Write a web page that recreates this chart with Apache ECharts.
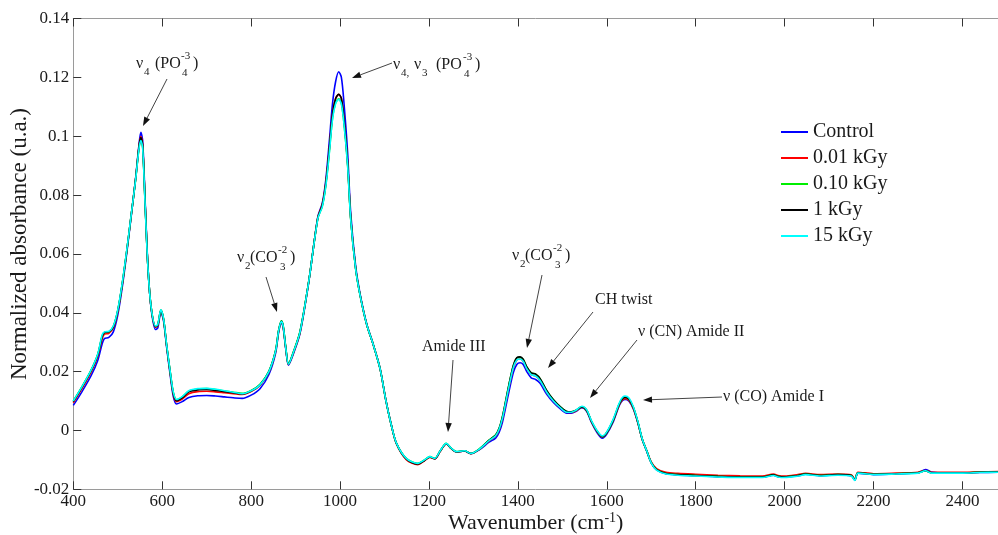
<!DOCTYPE html>
<html>
<head>
<meta charset="utf-8">
<script src="https://cdn.jsdelivr.net/npm/echarts@6/dist/echarts.min.js"></script>
<style>html,body{margin:0;padding:0;background:#fff;}#chart{width:998px;height:535px;}</style>
</head>
<body>
<div id="chart"></div>
<script>
const seriesNames = ['Control', '0.01 kGy', '0.10 kGy', '1 kGy', '15 kGy'];
const seriesColors = ['#0000ff', '#ff0000', '#00ee00', '#000000', '#00ffff'];

const wavenumber = [
400,420,440,455,465,470,480,490,500,510,
520,530,540,548,552,556,562,568,575,585,
590,597,603,610,618,625,632,645,660,680,
700,720,740,760,780,800,820,840,855,862,
868,872,878,884,895,910,930,950,960,968,
976,983,990,997,1003,1009,1017,1024,1035,1045,
1060,1075,1090,1103,1115,1127,1149,1175,1190,1202,
1213,1225,1239,1250,1262,1280,1294,1313,1335,1350,
1358,1365,1372,1380,1390,1398,1405,1412,1420,1430,
1440,1450,1465,1480,1495,1510,1520,1530,1544,1555,
1565,1578,1590,1600,1615,1630,1641,1650,1660,1670,
1680,1690,1700,1712,1733,1760,1800,1850,1900,1950,
1975,1985,2000,2030,2047,2080,2120,2150,2158,2165,
2200,2250,2300,2317,2330,2360,2400,2440,2480];

const control = [
.0085,.0133,.0186,.0238,.0295,.0312,.0316,.0335,.0392,.0485,
.0600,.0725,.0855,.0975,.1013,.0985,.0765,.0555,.0415,.0343,
.0348,.0402,.0372,.0282,.0188,.0115,.0090,.0098,.0112,.0118,
.0119,.0117,.0114,.0111,.0109,.0120,.0142,.0190,.0262,.0334,
.0366,.0350,.0276,.0222,.0260,.0330,.0508,.0726,.0772,.0852,
.0985,.1110,.1185,.1219,.1200,.1110,.0945,.0740,.0560,.0465,
.0362,.0291,.0211,.0104,.0021,-.0044,-.0096,-.0113,-.0101,-.0090,
-.0096,-.0071,-.0045,-.0061,-.0073,-.0070,-.0079,-.0066,-.0040,-.0026,
-.0006,.0026,.0074,.0132,.0198,.0225,.0230,.0224,.0200,.0179,
.0173,.0160,.0123,.0095,.0074,.0059,.0059,.0064,.0077,.0064,
.0029,-.0007,-.0026,-.0012,.0031,.0090,.0105,.0099,.0072,.0025,
-.0032,-.0071,-.0110,-.0134,-.0147,-.0151,-.0154,-.0157,-.0159,-.0159,
-.0152,-.0157,-.0159,-.0154,-.0149,-.0154,-.0151,-.0154,-.0169,-.0145,
-.0150,-.0148,-.0144,-.0133,-.0141,-.0145,-.0145,-.0143,-.0142];

const dose001 = [
.0094,.0144,.0198,.0252,.0312,.0327,.0330,.0348,.0403,.0494,
.0606,.0728,.0853,.0968,.0999,.0972,.0757,.0553,.0418,.0351,
.0356,.0406,.0377,.0287,.0195,.0123,.0098,.0107,.0125,.0132,
.0133,.0131,.0128,.0125,.0122,.0132,.0153,.0198,.0268,.0338,
.0369,.0353,.0278,.0224,.0263,.0333,.0510,.0724,.0768,.0842,
.0960,.1075,.1128,.1142,.1128,.1055,.0910,.0722,.0552,.0461,
.0360,.0290,.0210,.0103,.0020,-.0046,-.0099,-.0116,-.0103,-.0092,
-.0097,-.0072,-.0046,-.0062,-.0073,-.0070,-.0079,-.0065,-.0036,-.0019,
.0003,.0038,.0088,.0148,.0213,.0240,.0243,.0235,.0210,.0190,
.0185,.0170,.0130,.0100,.0078,.0062,.0061,.0066,.0079,.0067,
.0032,-.0003,-.0022,-.0008,.0035,.0093,.0108,.0102,.0074,.0026,
-.0031,-.0069,-.0107,-.0130,-.0142,-.0146,-.0149,-.0152,-.0154,-.0155,
-.0148,-.0153,-.0155,-.0150,-.0146,-.0150,-.0148,-.0151,-.0166,-.0142,
-.0147,-.0145,-.0142,-.0136,-.0142,-.0142,-.0142,-.0141,-.0140];

const dose010 = [
.0100,.0150,.0205,.0258,.0322,.0333,.0335,.0353,.0408,.0498,
.0608,.0729,.0850,.0962,.0988,.0963,.0752,.0551,.0420,.0354,
.0359,.0409,.0379,.0289,.0199,.0129,.0104,.0114,.0134,.0141,
.0142,.0139,.0134,.0130,.0126,.0136,.0157,.0202,.0272,.0342,
.0373,.0357,.0282,.0227,.0267,.0337,.0511,.0721,.0762,.0833,
.0948,.1060,.1113,.1127,.1112,.1042,.0902,.0718,.0550,.0460,
.0360,.0290,.0210,.0103,.0020,-.0044,-.0095,-.0112,-.0100,-.0089,
-.0095,-.0070,-.0044,-.0060,-.0072,-.0069,-.0078,-.0063,-.0033,-.0015,
.0008,.0045,.0096,.0157,.0222,.0247,.0249,.0241,.0216,.0196,
.0191,.0176,.0135,.0104,.0081,.0064,.0063,.0068,.0080,.0068,
.0033,-.0002,-.0021,-.0007,.0037,.0096,.0113,.0106,.0077,.0028,
-.0031,-.0070,-.0109,-.0133,-.0146,-.0150,-.0153,-.0156,-.0158,-.0158,
-.0151,-.0156,-.0158,-.0153,-.0148,-.0153,-.0150,-.0153,-.0168,-.0144,
-.0149,-.0147,-.0144,-.0137,-.0144,-.0144,-.0144,-.0142,-.0141];

const dose1 = [
.0098,.0148,.0203,.0257,.0320,.0333,.0335,.0352,.0407,.0497,
.0608,.0729,.0852,.0966,.0995,.0968,.0755,.0552,.0419,.0353,
.0358,.0408,.0378,.0288,.0197,.0126,.0101,.0111,.0131,.0138,
.0139,.0136,.0132,.0128,.0124,.0134,.0155,.0200,.0270,.0340,
.0371,.0355,.0280,.0225,.0265,.0335,.0510,.0722,.0765,.0838,
.0957,.1072,.1127,.1142,.1128,.1055,.0910,.0722,.0552,.0461,
.0360,.0290,.0210,.0103,.0020,-.0045,-.0097,-.0114,-.0102,-.0090,
-.0096,-.0071,-.0045,-.0061,-.0073,-.0070,-.0078,-.0064,-.0034,-.0016,
.0007,.0044,.0095,.0156,.0222,.0248,.0250,.0242,.0216,.0196,
.0191,.0176,.0135,.0104,.0081,.0064,.0063,.0068,.0080,.0068,
.0033,-.0002,-.0021,-.0007,.0037,.0096,.0113,.0106,.0077,.0028,
-.0031,-.0070,-.0109,-.0133,-.0146,-.0150,-.0153,-.0156,-.0158,-.0158,
-.0151,-.0156,-.0158,-.0153,-.0148,-.0153,-.0150,-.0153,-.0168,-.0144,
-.0149,-.0147,-.0144,-.0137,-.0144,-.0144,-.0144,-.0142,-.0141];

const dose15 = [
.0100,.0150,.0205,.0260,.0325,.0335,.0337,.0355,.0410,.0500,
.0610,.0730,.0850,.0960,.0985,.0960,.0750,.0550,.0420,.0355,
.0360,.0410,.0380,.0290,.0200,.0130,.0105,.0115,.0135,.0142,
.0143,.0140,.0135,.0130,.0125,.0135,.0155,.0200,.0270,.0340,
.0370,.0355,.0280,.0225,.0265,.0335,.0510,.0720,.0760,.0830,
.0944,.1057,.1110,.1125,.1110,.1040,.0900,.0717,.0550,.0460,
.0360,.0290,.0210,.0103,.0020,-.0044,-.0095,-.0112,-.0100,-.0089,
-.0095,-.0070,-.0044,-.0060,-.0072,-.0069,-.0078,-.0064,-.0035,-.0018,
.0005,.0040,.0090,.0150,.0215,.0240,.0243,.0235,.0210,.0190,
.0185,.0170,.0130,.0100,.0078,.0062,.0062,.0068,.0082,.0070,
.0035,.0000,-.0019,-.0005,.0040,.0100,.0117,.0110,.0080,.0030,
-.0030,-.0070,-.0110,-.0135,-.0148,-.0152,-.0155,-.0158,-.0160,-.0160,
-.0153,-.0158,-.0160,-.0155,-.0150,-.0155,-.0152,-.0155,-.0170,-.0145,
-.0150,-.0148,-.0145,-.0137,-.0145,-.0145,-.0145,-.0143,-.0142];

const xTickStep = 200;
const yTickStep = 0.02;

const FONT = '"Liberation Serif", "Times New Roman", serif';
const TXT = '#1a1a1a';
const allValues = [control, dose001, dose010, dose1, dose15];

const chart = echarts.init(document.getElementById('chart'), null, {renderer: 'canvas'});

function t(x, y, s, size) {
  return {type: 'text', x: x, y: y, z: 100,
    style: {text: s, fontSize: size, fontFamily: FONT, fill: TXT, align: 'left', verticalAlign: 'middle'}};
}
function arrow(x1, y1, x2, y2) {
  const ang = Math.atan2(y2 - y1, x2 - x1);
  const L = 9, W = 3.2;
  const bx = x2 - L * Math.cos(ang), by = y2 - L * Math.sin(ang);
  const px = -Math.sin(ang) * W, py = Math.cos(ang) * W;
  return [
    {type: 'line', z: 100, shape: {x1: x1, y1: y1, x2: bx, y2: by}, style: {stroke: '#444', lineWidth: 1}},
    {type: 'polygon', z: 100, shape: {points: [[x2, y2], [bx + px, by + py], [bx - px, by - py]]}, style: {fill: '#111'}}
  ];
}
const S = 16, s = 11;
const graphics = [].concat(
  [{type: 'text', x: 20, y: 244, rotation: Math.PI / 2, z: 100,
    style: {text: 'Normalized absorbance (u.a.)', fontSize: 23, fontFamily: FONT, fill: TXT, align: 'center', verticalAlign: 'middle'}}],
  [t(136, 64, 'ν', S), t(144, 72, '4', s), t(155, 64, '(PO', S), t(181, 56, '-3', s), t(182, 73, '4', s), t(193, 64, ')', S)],
  arrow(167, 79, 143, 126),
  [t(393, 65, 'ν', S), t(401, 73, '4,', s), t(414, 65, 'ν', S), t(422, 73, '3', s), t(436, 65, '(PO', S), t(463, 57, '-3', s), t(464, 74, '4', s), t(475, 65, ')', S)],
  arrow(392, 63, 352, 78),
  [t(237, 258, 'ν', S), t(245, 266, '2', s), t(250, 258, '(CO', S), t(278, 250, '-2', s), t(280, 267, '3', s), t(290, 258, ')', S)],
  arrow(266, 277, 277, 312),
  [t(512, 256, 'ν', S), t(520, 264, '2', s), t(525, 256, '(CO', S), t(553, 248, '-2', s), t(555, 265, '3', s), t(565, 256, ')', S)],
  arrow(542, 275, 527, 348),
  [t(595, 300, 'CH twist', S)],
  arrow(593, 312, 548, 368),
  [t(638, 332, 'ν (CN) Amide II', S)],
  arrow(637, 340, 590, 398),
  [t(422, 347, 'Amide III', S)],
  arrow(453, 360, 448, 432),
  [t(723, 397, 'ν (CO) Amide I', S)],
  arrow(722, 397, 643, 400)
);

function axisCommon() {
  return {
    axisLine: {show: true, onZero: false, lineStyle: {color: '#9a9a9a', width: 1}},
    axisTick: {show: true, inside: true, length: 8, lineStyle: {color: '#333', width: 1}},
    splitLine: {show: false},
    nameMoveOverlap: false
  };
}

chart.setOption({
  animation: false,
  backgroundColor: '#fff',
  grid: {left: 73.3, right: 0, top: 18.5, bottom: 45.7, containLabel: false, outerBoundsMode: 'none'},
  legend: {
    orient: 'vertical', left: 776, top: 117,
    itemWidth: 27, itemHeight: 2, itemGap: 6, icon: 'rect',
    data: seriesNames,
    textStyle: {fontFamily: FONT, fontSize: 20, color: TXT, lineHeight: 20}
  },
  xAxis: [
    Object.assign(axisCommon(), {
      type: 'value', position: 'bottom', min: 400, max: 2480, interval: xTickStep,
      name: 'Wavenumber (cm{sup|-1})', nameLocation: 'middle', nameGap: 22,
      nameTextStyle: {fontFamily: FONT, fontSize: 22, color: TXT, lineHeight: 24, verticalAlign: 'top',
        rich: {sup: {fontSize: 14, fontFamily: FONT, color: TXT, verticalAlign: 'top', lineHeight: 14}}},
      axisLabel: {fontFamily: FONT, fontSize: 17, color: TXT, margin: 4, showMaxLabel: false,
        formatter: function (v) { return (v % xTickStep === 0) ? String(v) : ''; }}
    }),
    Object.assign(axisCommon(), {
      type: 'value', position: 'top', min: 400, max: 2480, interval: xTickStep,
      axisLabel: {show: false}
    })
  ],
  yAxis: Object.assign(axisCommon(), {
    type: 'value', min: -0.02, max: 0.14, interval: yTickStep,
    axisLabel: {fontFamily: FONT, fontSize: 17, color: TXT, margin: 4,
      formatter: function (v) { return String(Math.round(v * 100) / 100); }}
  }),
  graphic: graphics,
  series: seriesNames.map(function (name, k) {
    return {
      name: name, type: 'line', xAxisIndex: 0, showSymbol: false, symbol: 'none',
      smooth: 0.3, color: seriesColors[k],
      lineStyle: {width: 1.6, color: seriesColors[k]},
      data: wavenumber.map(function (w, i) { return [w, allValues[k][i]]; }),
      z: 2 + k
    };
  })
});
</script>
</body>
</html>
